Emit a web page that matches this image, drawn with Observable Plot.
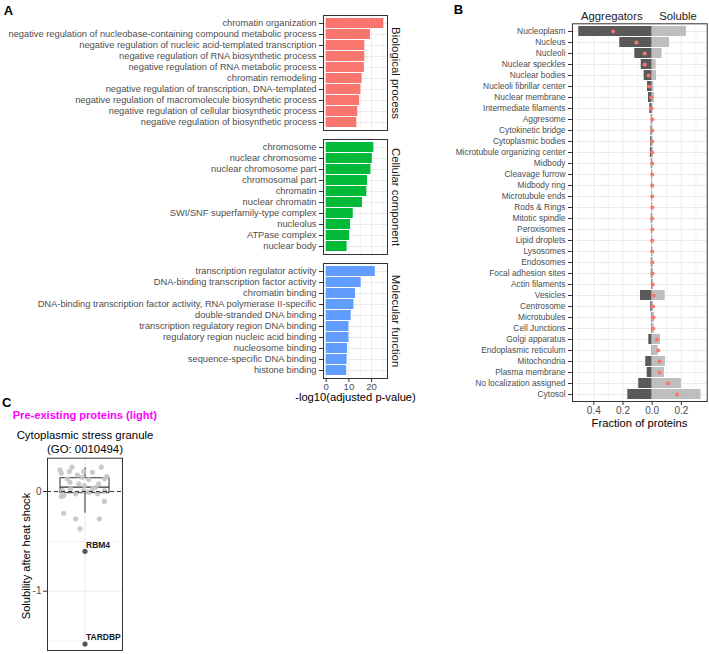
<!DOCTYPE html>
<html><head><meta charset="utf-8">
<script src="https://cdn.jsdelivr.net/npm/d3@7"></script>
<script src="https://cdn.jsdelivr.net/npm/@observablehq/plot@0.6"></script>
<style>
body{margin:0;background:#fff;font-family:"Liberation Sans",Arial,sans-serif;}
#root{position:relative;width:709px;height:654px;overflow:hidden;background:#fff;}
.lbl{position:absolute;transform:translate(-50%,-50%);white-space:nowrap;line-height:1;}
</style></head><body><div id="root"></div>
<script>
// ---------- Panel A data ----------
const bpTerms = ["chromatin organization","negative regulation of nucleobase-containing compound metabolic process","negative regulation of nucleic acid-templated transcription","negative regulation of RNA biosynthetic process","negative regulation of RNA metabolic process","chromatin remodeling","negative regulation of transcription, DNA-templated","negative regulation of macromolecule biosynthetic process","negative regulation of cellular biosynthetic process","negative regulation of biosynthetic process"];
const bpValues = [25.4, 19.5, 17.0, 17.0, 16.8, 15.8, 15.3, 14.7, 13.9, 13.5];
const ccTerms = ["chromosome","nuclear chromosome","nuclear chromosome part","chromosomal part","chromatin","nuclear chromatin","SWI/SNF superfamily-type complex","nucleolus","ATPase complex","nuclear body"];
const ccValues = [21.0, 20.3, 19.7, 18.2, 17.9, 16.0, 11.9, 10.7, 10.3, 9.2];
const mfTerms = ["transcription regulator activity","DNA-binding transcription factor activity","chromatin binding","DNA-binding transcription factor activity, RNA polymerase II-specific","double-stranded DNA binding","transcription regulatory region DNA binding","regulatory region nucleic acid binding","nucleosome binding","sequence-specific DNA binding","histone binding"];
const mfValues = [21.6, 15.4, 12.9, 12.2, 11.0, 10.0, 10.0, 9.4, 9.2, 9.0];
const goStrips = ["Biological process","Cellular component","Molecular function"];
const goColors = ["#F8766D","#00BA38","#619CFF"];
const goTicks = [0, 10, 20];

// ---------- Panel B data ----------
const locCategories = ["Nucleoplasm","Nucleus","Nucleoli","Nuclear speckles","Nuclear bodies","Nucleoli fibrillar center","Nuclear membrane","Intermediate filaments","Aggresome","Cytokinetic bridge","Cytoplasmic bodies","Microtubule organizing center","Midbody","Cleavage furrow","Midbody ring","Microtubule ends","Rods & Rings","Mitotic spindle","Peroxisomes","Lipid droplets","Lysosomes","Endosomes","Focal adhesion sites","Actin filaments","Vesicles","Centrosome","Microtubules","Cell Junctions","Golgi apparatus","Endoplasmic reticulum","Mitochondria","Plasma membrane","No localization assigned","Cytosol"];
const aggFrac = [0.503,0.222,0.119,0.075,0.055,0.032,0.025,0.016,0.006,0.008,0.010,0.012,0.006,0.004,0.003,0.003,0.003,0.006,0.004,0.003,0.004,0.006,0.006,0.005,0.080,0.010,0.005,0.005,0.023,0.003,0.044,0.034,0.092,0.167];
const solFrac = [0.235,0.119,0.068,0.027,0.030,0.011,0.016,0.006,0.004,0.004,0.006,0.008,0.004,0.003,0.003,0.003,0.004,0.005,0.004,0.004,0.004,0.007,0.008,0.010,0.089,0.010,0.016,0.013,0.057,0.041,0.091,0.084,0.200,0.335];
const diffFrac = [-0.267,-0.108,-0.051,-0.051,-0.025,-0.021,-0.007,-0.005,0,0,0,0,0,0,0,0,0,0,0,0,0,0.001,0.002,0.004,0.011,0.006,0.009,0.008,0.032,0.041,0.050,0.050,0.107,0.171];
const locTicks = [-0.4, -0.2, 0, 0.2];
const locMinor = [-0.5, -0.3, -0.1, 0.1, 0.3];

// ---------- Panel C data ----------
const sgJitter = [-0.40,-0.38,-0.21,-0.25,-0.02,0.12,0.26,0.35,0.31,-0.04,-0.28,-0.24,-0.10,0.22,0.12,-0.02,-0.23,-0.15,0.06,0.20,0.31,-0.38,-0.34,-0.36,0.17,-0.01,0.31,-0.34,-0.15,0.23,-0.08,0.06,-0.12];
const sgSolubility = [0.218,0.184,0.244,0.200,0.200,0.193,0.244,0.150,0.127,0.143,0.127,0.093,0.077,0.077,0.027,0.010,0.027,-0.023,-0.007,-0.023,0.010,-0.050,-0.040,0.010,0.040,0.060,-0.100,-0.218,-0.274,-0.274,-0.374,0.120,0.165];
const sgOutlierNames = ["RBM4","TARDBP"];
const sgOutlierValues = [-0.60, -1.53];
const sgBoxQ1 = -0.017, sgBoxMedian = 0.043, sgBoxQ3 = 0.133, sgWhiskerLow = -0.218, sgWhiskerHigh = 0.238;
const sgTicks = [0, -1];
const sgMinor = [-0.5, -1.5];

// ---------- helpers ----------
const FONT = '"Liberation Sans", Arial, Helvetica, sans-serif';
const root = document.getElementById("root");
function put(node, left, top) {
  node.style.position = "absolute";
  node.style.left = left + "px";
  node.style.top = top + "px";
  root.appendChild(node);
  return node;
}
function label(text, cx, cy, css) {
  const d = document.createElement("div");
  d.className = "lbl";
  d.textContent = text;
  d.style.left = cx + "px";
  d.style.top = cy + "px";
  d.style.fontFamily = FONT;
  Object.assign(d.style, css || {});
  root.appendChild(d);
  return d;
}
const svgStyle = {fontFamily: FONT, background: "transparent", overflow: "visible", maxWidth: "none"};

// ---------- Panel A ----------
function goFacet(terms, values, color, strip, top, withAxis) {
  const data = terms.map((t, i) => ({term: t, value: values[i]}));
  const H = 115, mt = 1, mb = withAxis ? 30 : 1;
  const marks = [
    Plot.gridX({ticks: [5, 15, 25], stroke: "#f3f3f3", strokeOpacity: 1}),
    Plot.gridX({ticks: goTicks, stroke: "#ebebeb", strokeOpacity: 1}),
    Plot.gridY({stroke: "#ebebeb", strokeOpacity: 1}),
    Plot.barX(data, {x: "value", y: "term", fill: color}),
    Plot.frame({stroke: "#333", strokeWidth: 1}),
    Plot.axisY({tickSize: 4, tickPadding: 3, fill: "#4d4d4d", stroke: "#333", label: null, fontSize: 9.3}),
    Plot.text([strip], {text: d => d, frameAnchor: "right", textAnchor: "middle", rotate: 90, dx: 8, fontSize: 11.4, fill: "#1a1a1a"})
  ];
  if (withAxis) marks.push(Plot.axisX({ticks: goTicks, tickSize: 4, tickPadding: 1, fill: "#4d4d4d", stroke: "#333", label: null, fontSize: 9.6}));
  const svg = Plot.plot({
    width: 405, height: H + mt + mb,
    marginLeft: 323, marginRight: 18, marginTop: mt, marginBottom: mb,
    style: svgStyle,
    x: {domain: [-1.2, 27], axis: null},
    y: {domain: terms, padding: 0.1, axis: null},
    marks
  });
  put(svg, 0, top - mt);
}
goFacet(bpTerms, bpValues, goColors[0], goStrips[0], 15, false);
goFacet(ccTerms, ccValues, goColors[1], goStrips[1], 139, false);
goFacet(mfTerms, mfValues, goColors[2], goStrips[2], 263, true);

// ---------- Panel B ----------
const locData = locCategories.map((c, i) => ({c, agg: aggFrac[i], sol: solFrac[i], diff: diffFrac[i]}));
const svgB = Plot.plot({
  width: 269, height: 432,
  marginLeft: 132, marginRight: 2.3, marginTop: 23.3, marginBottom: 31,
  style: svgStyle,
  x: {domain: [-0.546, 0.377], axis: null},
  y: {domain: locCategories, padding: 0.1, axis: null},
  marks: [
    Plot.gridX({ticks: locMinor, stroke: "#f3f3f3", strokeOpacity: 1}),
    Plot.gridX({ticks: locTicks, stroke: "#ebebeb", strokeOpacity: 1}),
    Plot.gridY({stroke: "#ebebeb", strokeOpacity: 1}),
    Plot.barX(locData, {x1: () => 0, x2: d => -d.agg, y: "c", fill: "#595959"}),
    Plot.barX(locData, {x1: () => 0, x2: "sol", y: "c", fill: "#bebebe"}),
    Plot.dot(locData, {x: "diff", y: "c", r: 2, fill: "#F8766D", stroke: "none"}),
    Plot.frame({stroke: "#333"}),
    Plot.axisY({tickSize: 4, tickPadding: 3, fill: "#4d4d4d", stroke: "#333", label: null, fontSize: 8.4}),
    Plot.axisX({ticks: locTicks, tickFormat: d => Math.abs(d).toFixed(1), tickSize: 4, tickPadding: 1, fill: "#4d4d4d", stroke: "#333", label: null, fontSize: 10})
  ]
});
put(svgB, 440, 0);

// ---------- Panel C ----------
const sgPts = sgJitter.map((x, i) => ({x, y: sgSolubility[i]}));
const sgOut = sgOutlierNames.map((n, i) => ({name: n, v: sgOutlierValues[i]}));
const sgBox = [{q1: sgBoxQ1, med: sgBoxMedian, q3: sgBoxQ3, lo: sgWhiskerLow, hi: sgWhiskerHigh}];
const svgC = Plot.plot({
  width: 130, height: 199,
  marginLeft: 47, marginRight: 8, marginTop: 2.7, marginBottom: 4,
  style: svgStyle,
  x: {domain: [-0.6, 0.6], axis: null},
  y: {domain: [-1.595, 0.334], axis: null},
  marks: [
    Plot.gridY({ticks: sgMinor, stroke: "#f3f3f3", strokeOpacity: 1}),
    Plot.gridY({ticks: sgTicks, stroke: "#ebebeb", strokeOpacity: 1}),
    Plot.gridX({ticks: [0], stroke: "#ebebeb", strokeOpacity: 1}),
    Plot.ruleX(sgBox, {x: () => 0, y1: "q3", y2: "hi", stroke: "#333"}),
    Plot.ruleX(sgBox, {x: () => 0, y1: "lo", y2: "q1", stroke: "#333"}),
    Plot.rect(sgBox, {y1: "q1", y2: "q3", insetLeft: 13, insetRight: 13, fill: "none", stroke: "#333"}),
    Plot.ruleY(sgBox, {y: "med", insetLeft: 13, insetRight: 13, stroke: "#333", strokeWidth: 1.3}),
    Plot.dot(sgPts, {x: "x", y: "y", r: 2.6, fill: "#c4c4c4", fillOpacity: 0.9, stroke: "none"}),
    Plot.ruleY([0], {stroke: "#333", strokeDasharray: "4,3"}),
    Plot.dot(sgOut, {x: () => 0, y: "v", r: 2.6, fill: "#555", stroke: "none"}),
    Plot.text(sgOut, {x: () => 0, y: "v", text: "name", textAnchor: "start", dx: 1, dy: -6.5, fontWeight: "bold", fontSize: 8.5, fill: "#1a1a1a"}),
    Plot.frame({stroke: "#333"}),
    Plot.axisY({ticks: sgTicks, tickFormat: d => String(d), tickSize: 4, tickPadding: 2, fill: "#4d4d4d", stroke: "#333", label: null, fontSize: 10})
  ]
});
put(svgC, 0, 455);

// ---------- Text labels ----------
const bold13 = {fontWeight: "bold", fontSize: "13px", color: "#000"};
label("A", 8.5, 9.5, bold13);
label("B", 458.5, 8.5, bold13);
label("C", 6.7, 401.5, bold13);
label("Aggregators", 611.8, 16.5, {fontSize: "11.3px", color: "#1a1a1a"});
label("Soluble", 678, 16.5, {fontSize: "11.3px", color: "#1a1a1a"});
label("-log10(adjusted p-value)", 355.5, 398, {fontSize: "11.2px", color: "#000"});
label("Fraction of proteins", 639.5, 424, {fontSize: "11.2px", color: "#000"});
const pre = label("Pre-existing proteins (light)", 0, 416, {fontSize: "11.1px", fontWeight: "bold", color: "#FF00FF"});
pre.style.transform = "translate(0,-50%)"; pre.style.left = "12.7px";
label("Cytoplasmic stress granule", 85, 436, {fontSize: "11.4px", color: "#000"});
label("(GO: 0010494)", 85, 450, {fontSize: "11.4px", color: "#000"});
const yl = label("Solubility after heat shock", 27, 556, {fontSize: "11.1px", color: "#000"});
yl.style.transform = "translate(-50%,-50%) rotate(-90deg)";
</script></body></html>
